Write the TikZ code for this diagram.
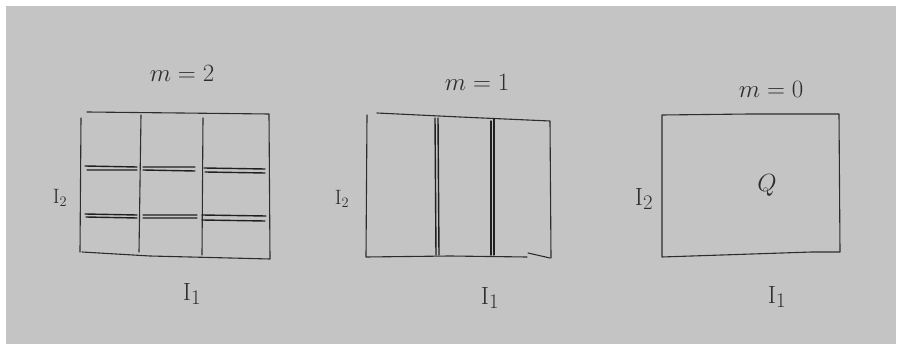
\documentclass[tikz,border=0pt]{standalone}
\begin{document}
\begin{tikzpicture}[x=1pt, y=-1pt, line cap=round, line join=round,
    hand/.style={text=pencil, inner sep=0pt, font=\fontsize{24.88}{28}\selectfont},
    axislabel/.style={text=pencil, inner sep=0pt, font=\fontsize{20.74}{24}\selectfont},
    edge/.style={pencil, line width=1.1pt},
    cut/.style={pencil!70!black, line width=1.4pt}]
  \definecolor{paper}{RGB}{196,196,196}
  \definecolor{pencil}{RGB}{45,45,45}
  \useasboundingbox (0,0) rectangle (902,347);
  \fill[white] (0,0) rectangle (902,347);
  \fill[paper] (6,6) rectangle (896,344);
  % m = 2 : grid of nine cells
  \node[hand] (mtwo) at (182,73) {$m=2$};
  \draw[edge] (87,112) -- (180,113) -- (269,114) -- (270,259)
    -- (150,256) -- (82,252);
  \draw[edge] (81,118) -- (80,252);
  \draw[edge] (141,115) -- (139,252);
  \draw[edge] (203,118) -- (202,255);
  \draw[cut] (85,166) -- (137,167) (143,167) -- (195,167) (204,168) -- (265,169);
  \draw[cut] (87,170) -- (137,170) (143,170) -- (195,171) (205,172) -- (265,173);
  \draw[cut] (85,214) -- (137,215) (143,215) -- (197,215) (202,215) -- (266,216);
  \draw[cut] (86,217) -- (137,218) (143,218) -- (197,218) (202,220) -- (265,221);
  \node[axislabel] (itwoa) at (60,198) {$\mathrm{I}_2$};
  \node[hand] (ionea) at (192,294) {$\mathrm{I}_1$};
  % m = 1 : three strips
  \node[hand] (mone) at (477,82) {$m=1$};
  \draw[edge] (377,113) -- (460,117) -- (550,121) -- (551,258);
  \draw[edge] (367,115) -- (366,257) -- (450,256) -- (527,257);
  \draw[edge] (528,253) -- (550,258);
  \draw[cut] (435,118) -- (436,255) (438,118) -- (439,255);
  \draw[cut] (491,121) -- (491,255) (494,119) -- (494,255);
  \node[axislabel] (itwob) at (342,199) {$\mathrm{I}_2$};
  \node[hand] (ioneb) at (490,298) {$\mathrm{I}_1$};
  % m = 0 : one box Q
  \node[hand] (mzero) at (771,89) {$m=0$};
  \draw[edge] (662,115) -- (750,114) -- (839,114) -- (840,252)
    -- (812,252) -- (662,257) -- cycle;
  \node[hand] (q) at (767,185) {$Q$};
  \node[hand] (itwoc) at (644,199) {$\mathrm{I}_2$};
  \node[hand] (ionec) at (777,297) {$\mathrm{I}_1$};
\end{tikzpicture}
\end{document}
